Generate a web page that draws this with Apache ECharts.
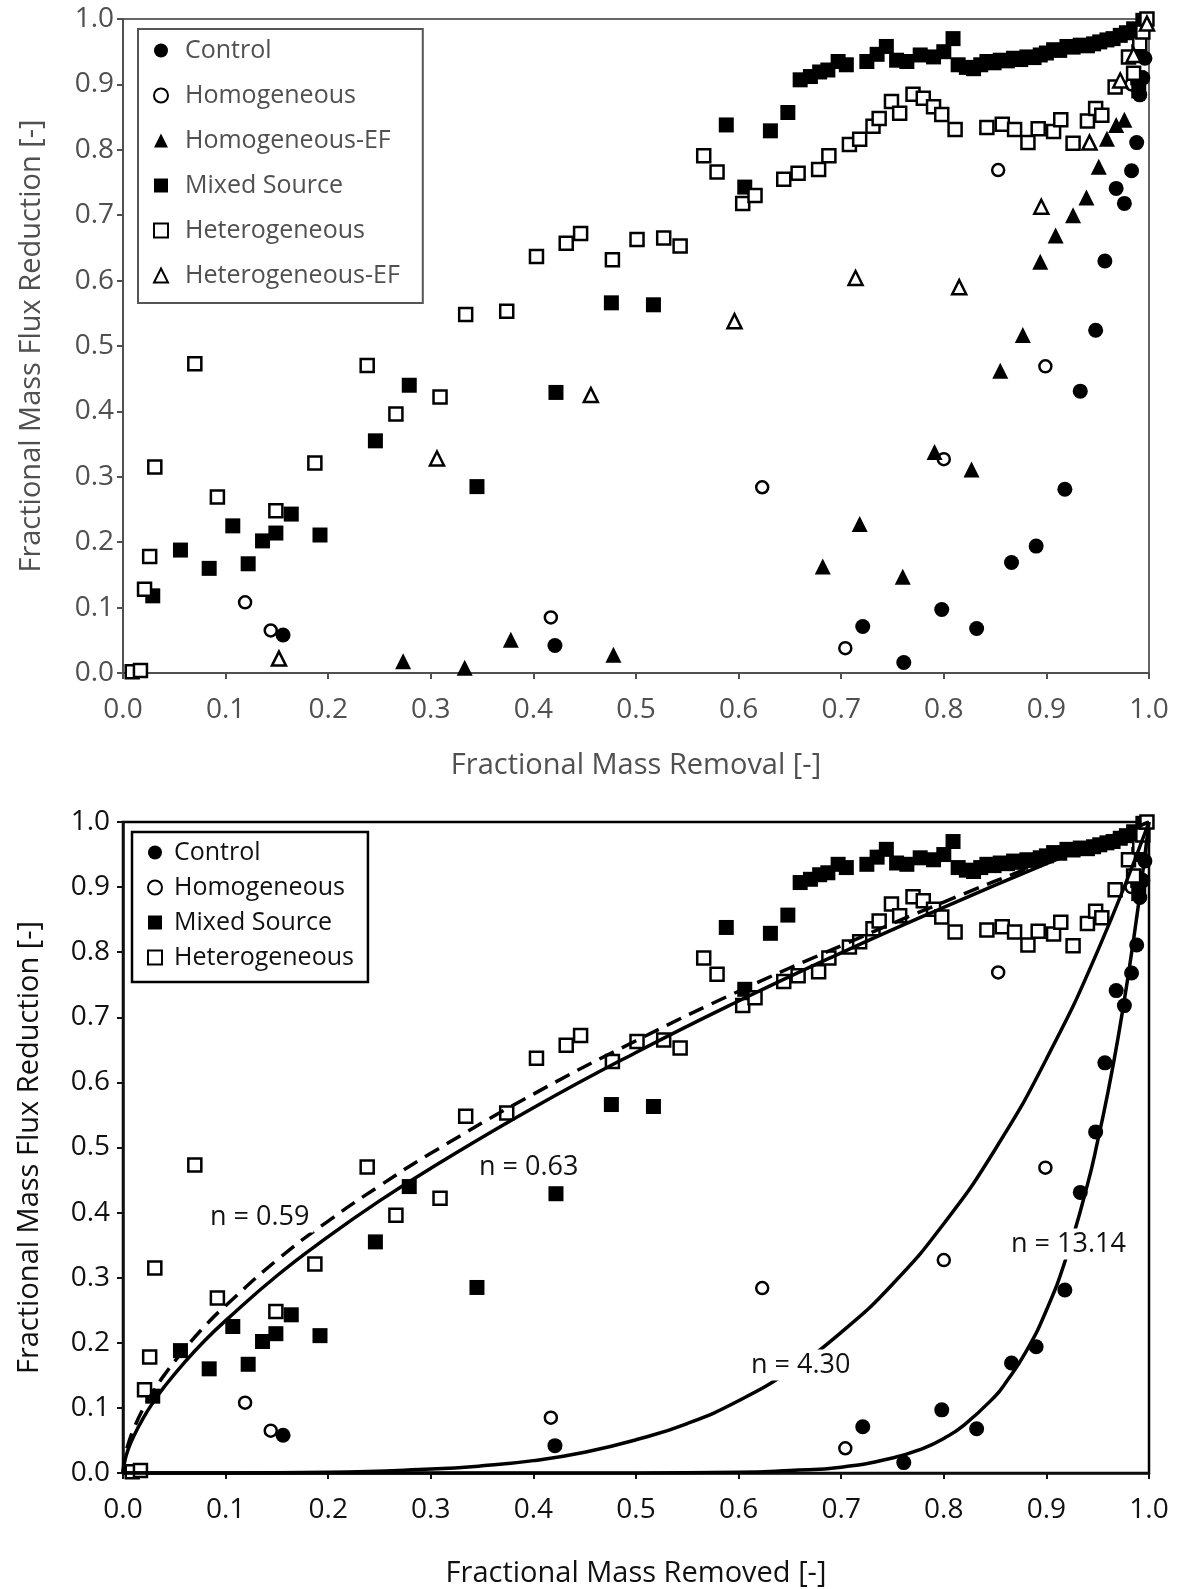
<!DOCTYPE html>
<html>
<head>
<meta charset="utf-8">
<script src="https://cdn.jsdelivr.net/npm/echarts@6/dist/echarts.min.js"></script>
<style>
html, body { margin: 0; padding: 0; background: #fff; }
#chart { width: 1180px; height: 1589px; }
</style>
</head>
<body>
<div id="chart"></div>
<script>
// tick labels shared by both axes of both panels
var tickLabels = ['0.0','0.1','0.2','0.3','0.4','0.5','0.6','0.7','0.8','0.9','1.0'];

// [fractional mass removed, fractional mass flux reduction]
var control = [[0.156,0.058],[0.421,0.042],[0.721,0.071],[0.761,0.016],[0.798,0.097],[0.832,0.068],
  [0.866,0.169],[0.890,0.194],[0.918,0.281],[0.933,0.431],[0.948,0.524],[0.957,0.630],[0.968,0.741],
  [0.976,0.718],[0.983,0.768],[0.988,0.811],[0.991,0.884],[0.994,0.910],[0.996,0.940]];

var homogeneous = [[0.119,0.108],[0.144,0.065],[0.417,0.085],[0.623,0.284],[0.704,0.038],[0.800,0.327],
  [0.853,0.769],[0.899,0.469],[0.983,0.900]];

var homogeneousEF = [[0.273,0.018],[0.333,0.008],[0.378,0.051],[0.478,0.028],[0.682,0.163],[0.718,0.228],
  [0.760,0.147],[0.791,0.338],[0.827,0.311],[0.855,0.462],[0.877,0.517],[0.894,0.629],[0.909,0.669],
  [0.926,0.700],[0.939,0.727],[0.951,0.774],[0.959,0.817],[0.968,0.838],[0.976,0.846]];

var mixedSource = [[0.029,0.118],[0.056,0.188],[0.084,0.160],[0.107,0.225],[0.122,0.167],[0.136,0.202],
  [0.149,0.214],[0.164,0.243],[0.192,0.211],[0.246,0.355],[0.279,0.440],[0.345,0.285],[0.422,0.429],
  [0.476,0.566],[0.517,0.563],[0.588,0.838],[0.606,0.743],[0.631,0.829],[0.648,0.857],
  [0.660,0.907],[0.670,0.912],[0.679,0.919],[0.687,0.922],[0.697,0.935],[0.705,0.930],[0.725,0.935],
  [0.735,0.946],[0.744,0.958],[0.754,0.937],[0.764,0.935],[0.777,0.945],[0.790,0.942],[0.800,0.950],
  [0.809,0.970],[0.814,0.930],[0.822,0.926],[0.829,0.924],[0.836,0.930],[0.842,0.935],[0.849,0.933],
  [0.855,0.937],[0.862,0.936],[0.868,0.940],[0.875,0.938],[0.881,0.942],[0.888,0.941],[0.894,0.945],
  [0.900,0.948],[0.907,0.953],[0.913,0.952],[0.920,0.958],[0.926,0.957],[0.933,0.960],[0.940,0.959],
  [0.946,0.962],[0.952,0.965],[0.959,0.968],[0.965,0.970],[0.972,0.975],[0.978,0.979],[0.985,0.985],
  [0.990,0.950],[0.989,0.910],[0.990,0.890],[0.994,0.998]];

var heterogeneous = [[0.009,0.002],[0.017,0.004],[0.021,0.128],[0.026,0.178],[0.031,0.315],[0.070,0.473],
  [0.092,0.269],[0.149,0.248],[0.187,0.321],[0.238,0.470],[0.266,0.396],[0.309,0.422],[0.334,0.548],
  [0.374,0.553],[0.403,0.637],[0.432,0.657],[0.446,0.672],[0.477,0.632],[0.501,0.663],[0.527,0.665],
  [0.543,0.653],[0.566,0.791],[0.579,0.766],[0.604,0.718],[0.616,0.730],[0.644,0.755],[0.658,0.764],
  [0.678,0.770],[0.688,0.791],[0.708,0.808],[0.718,0.816],[0.731,0.836],[0.737,0.848],[0.749,0.874],
  [0.757,0.856],[0.770,0.885],[0.780,0.879],[0.790,0.866],[0.798,0.854],[0.811,0.831],[0.842,0.834],
  [0.857,0.839],[0.869,0.831],[0.882,0.811],[0.892,0.832],[0.907,0.828],[0.914,0.846],[0.926,0.810],
  [0.940,0.844],[0.948,0.863],[0.954,0.853],[0.967,0.896],[0.980,0.942],[0.985,0.917],[0.991,0.962],
  [0.994,0.980],[0.998,1.000]];

var heterogeneousEF = [[0.152,0.022],[0.306,0.328],[0.456,0.425],[0.596,0.538],[0.714,0.604],[0.815,0.590],
  [0.895,0.713],[0.942,0.811],[0.972,0.906],[0.985,0.945],[0.998,0.993]];

// fitted curves
var fitN059 = [[0,0],[0.002,0.026],[0.005,0.044],[0.01,0.066],[0.02,0.100],[0.03,0.126],[0.04,0.150],
  [0.06,0.190],[0.08,0.226],[0.1,0.257],[0.15,0.327],[0.2,0.387],[0.25,0.441],[0.3,0.491],[0.4,0.582],
  [0.5,0.664],[0.6,0.740],[0.7,0.810],[0.8,0.877],[0.9,0.940],[1,1]];
var fitN063 = [[0,0],[0.002,0.020],[0.005,0.036],[0.01,0.055],[0.02,0.085],[0.03,0.110],[0.04,0.132],
  [0.06,0.170],[0.08,0.204],[0.1,0.234],[0.15,0.303],[0.2,0.363],[0.25,0.418],[0.3,0.468],[0.4,0.561],
  [0.5,0.646],[0.6,0.725],[0.7,0.799],[0.8,0.869],[0.9,0.936],[1,1]];
var fitN430 = [[0,0],[0.1,0],[0.2,0.001],[0.3,0.006],[0.35,0.011],[0.4,0.019],[0.45,0.032],[0.5,0.051],
  [0.55,0.076],[0.6,0.111],[0.65,0.157],[0.7,0.216],[0.75,0.290],[0.8,0.383],[0.85,0.497],[0.9,0.636],
  [0.95,0.802],[1,1]];
var fitN1314 = [[0,0],[0.5,0],[0.6,0.001],[0.65,0.004],[0.7,0.009],[0.75,0.023],[0.78,0.038],[0.8,0.053],
  [0.82,0.074],[0.85,0.118],[0.86,0.138],[0.88,0.186],[0.9,0.250],[0.92,0.334],[0.94,0.443],[0.95,0.510],
  [0.96,0.585],[0.97,0.670],[0.98,0.767],[0.99,0.876],[1,1]];

var FONT = '"Open Sans", "Noto Sans", sans-serif';
var GRAY = '#505050';
var INK = '#111';

function fmt(v) { return tickLabels[Math.round(v * 10)]; }

function axis(grid, name, gap, color, lineW, labelMargin) {
  return {
    gridIndex: grid, type: 'value', min: 0, max: 1, interval: 0.1,
    name: name, nameLocation: 'middle', nameGap: gap,
    nameTextStyle: { fontFamily: FONT, fontSize: 29, color: color },
    axisLine: { show: true, onZero: false, lineStyle: { color: color, width: lineW } },
    axisTick: { show: true, length: 6, lineStyle: { color: color, width: 2 } },
    axisLabel: { margin: labelMargin, fontFamily: FONT, fontSize: 28, color: color, formatter: fmt },
    splitLine: { show: false }
  };
}

function pts(name, data, grid, symbol, size, open) {
  return {
    name: name, type: 'scatter', xAxisIndex: grid, yAxisIndex: grid,
    data: data, symbol: symbol, symbolSize: size,
    itemStyle: open ? { color: '#fff', borderColor: '#000', borderWidth: 2.5, opacity: 1 }
                    : { color: '#000', borderColor: '#000', borderWidth: 0, opacity: 1 },
    emphasis: { disabled: true }, z: 3
  };
}

function fit(data, dashed) {
  return {
    type: 'line', xAxisIndex: 1, yAxisIndex: 1, data: data, showSymbol: false,
    smooth: 0.5, silent: true, z: 5,
    lineStyle: { color: '#000', width: 3.5, type: dashed ? [16, 9] : 'solid' }
  };
}

function nLabel(text, x, y) {
  return {
    type: 'text', x: x, y: y, z: 100,
    style: { text: text, font: '27px ' + FONT, fill: INK, textVerticalAlign: 'middle',
             backgroundColor: '#fff', padding: [2, 4] }
  };
}

var chart = echarts.init(document.getElementById('chart'));
chart.setOption({
  backgroundColor: '#fff',
  animation: false,
  grid: [
    { left: 123, top: 19, width: 1026, height: 654, show: true, borderColor: '#666', borderWidth: 2, backgroundColor: 'transparent' },
    { left: 123, top: 822, width: 1026, height: 656, show: true, borderColor: '#000', borderWidth: 2.5, backgroundColor: 'transparent' }
  ],
  xAxis: [
    axis(0, 'Fractional Mass Removal [-]', 78, GRAY, 2, 23),
    axis(1, 'Fractional Mass Removed [-]', 86, INK, 2.5, 23)
  ],
  yAxis: [
    axis(0, 'Fractional Mass Flux Reduction [-]', 77, GRAY, 2, 9),
    axis(1, 'Fractional Mass Flux Reduction [-]', 79, INK, 2.5, 13)
  ],
  legend: [
    {
      orient: 'vertical', left: 138, top: 29, itemWidth: 14, itemHeight: 14, itemGap: 20,
      padding: [9, 23, 15, 15], borderColor: '#555', borderWidth: 2,
      textStyle: { fontFamily: FONT, fontSize: 25, color: GRAY, padding: [0, 0, 0, 12] },
      data: ['Control', 'Homogeneous', 'Homogeneous-EF', 'Mixed Source', 'Heterogeneous', 'Heterogeneous-EF'],
      selectedMode: false
    },
    {
      orient: 'vertical', left: 132, top: 832, itemWidth: 14, itemHeight: 14, itemGap: 10,
      padding: [8, 14, 12, 15], borderColor: '#000', borderWidth: 2.5,
      textStyle: { fontFamily: FONT, fontSize: 25, color: INK, padding: [0, 0, 0, 7] },
      data: ['Control', 'Homogeneous', 'Mixed Source', 'Heterogeneous'],
      selectedMode: false
    }
  ],
  graphic: [
    nLabel('n = 0.59', 206, 1217),
    nLabel('n = 0.63', 475, 1167),
    nLabel('n = 4.30', 747, 1365),
    nLabel('n = 13.14', 1007, 1244)
  ],
  series: [
    pts('Control', control, 0, 'circle', 15, false),
    pts('Homogeneous', homogeneous, 0, 'circle', 12, true),
    pts('Homogeneous-EF', homogeneousEF, 0, 'triangle', 16, false),
    pts('Mixed Source', mixedSource, 0, 'rect', 15, false),
    pts('Heterogeneous', heterogeneous, 0, 'rect', 13, true),
    pts('Heterogeneous-EF', heterogeneousEF, 0, 'triangle', 14, true),

    pts('Control', control, 1, 'circle', 15, false),
    pts('Homogeneous', homogeneous, 1, 'circle', 12, true),
    pts('Mixed Source', mixedSource, 1, 'rect', 15, false),
    pts('Heterogeneous', heterogeneous, 1, 'rect', 13, true),

    fit(fitN059, true),
    fit(fitN063, false),
    fit(fitN430, false),
    fit(fitN1314, false)
  ]
});
</script>
</body>
</html>
